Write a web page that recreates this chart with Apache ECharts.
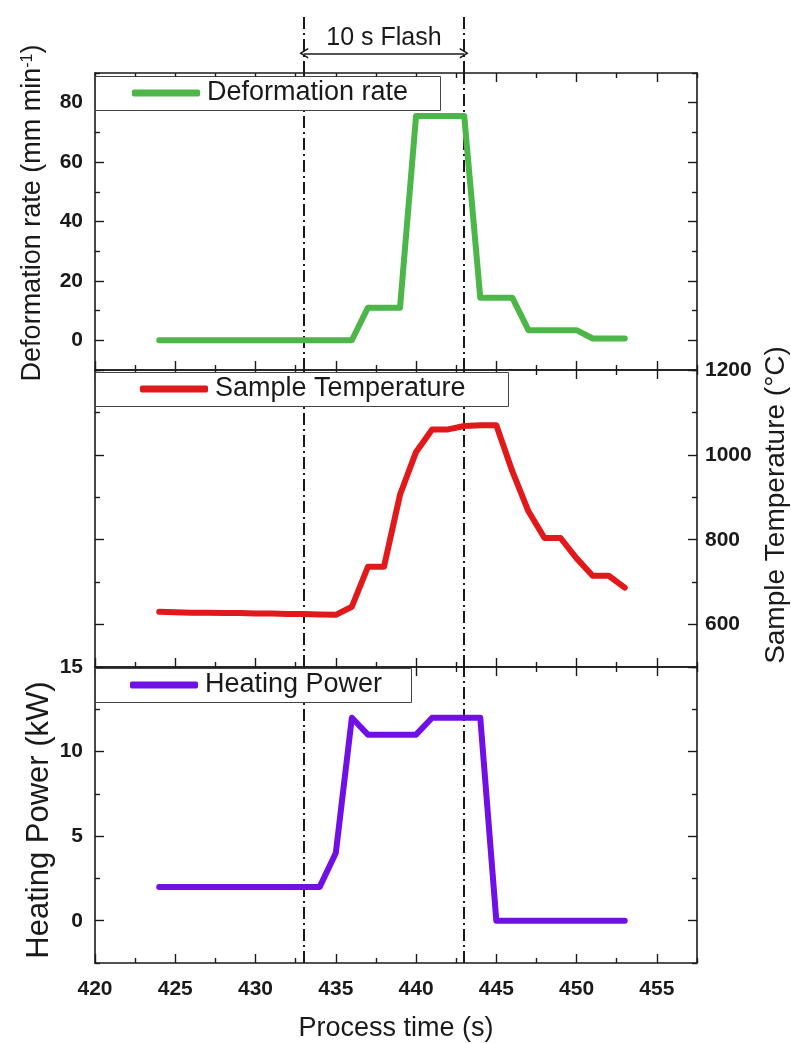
<!DOCTYPE html>
<html>
<head>
<meta charset="utf-8">
<script src="https://cdn.jsdelivr.net/npm/echarts@6/dist/echarts.min.js"></script>
<style>html,body{margin:0;padding:0;background:#fff}#c{width:791px;height:1044px}</style>
</head>
<body>
<div id="c"></div>
<script>
// ---------- data ----------
const times = [424,425,426,427,428,429,430,431,432,433,434,435,436,437,438,439,440,441,442,443,444,445,446,447,448,449,450,451,452,453];
const deformationRate = [0,0,0,0,0,0,0,0,0,0,0,0,0,11,11,11,75.5,75.5,75.5,75.5,14.3,14.3,14.3,3.4,3.4,3.4,3.4,0.6,0.6,0.6];
const sampleTemperature = [630,629,628,628,627,627,626,626,625,625,624,623,642,736,736,906,1007,1060,1060,1068,1070,1070,961,867,804,804,756,715,715,687];
const heatingPower = [2,2,2,2,2,2,2,2,2,2,2,4,12,11,11,11,11,12,12,12,12,0,0,0,0,0,0,0,0,0];
const flashWindow = [433, 443];
const flashLabel = '10 s Flash';
const seriesNames = ['Deformation rate', 'Sample Temperature', 'Heating Power'];
const xMajorTicks = [420,425,430,435,440,445,450,455];
const xMinorTicks = [422.5,427.5,432.5,437.5,442.5,447.5,452.5,457.5];
const defMajorTicks = [0,20,40,60,80];
const defMinorTicks = [-10,10,30,50,70,90];
const tempMajorTicks = [600,800,1000,1200];
const tempMinorTicks = [500,700,900,1100];
const powerMajorTicks = [0,5,10,15];
const powerMinorTicks = [-2.5,2.5,7.5,12.5];

// ---------- styling ----------
const FONT = '"Liberation Sans", Arial, sans-serif';
const INK = '#1a1a1a';
const COLORS = ['#4cb648', '#e1191b', '#7010e6'];
const X_MIN = 420, X_MAX = 457.5;

const labelStyle = {fontFamily: FONT, fontSize: 21, fontWeight: 'bold', color: INK, formatter: v => String(v)};

function xAx(grid, pos, ticks, len, line, labels, extra) {
  return Object.assign({
    type: 'value', gridIndex: grid, position: pos, min: X_MIN, max: X_MAX,
    axisLine: {show: line, onZero: false, lineStyle: {color: INK, width: 1.6}},
    axisTick: {show: true, inside: true, length: len, customValues: ticks, lineStyle: {color: INK, width: 1.4}},
    axisLabel: labels ? Object.assign({show: true, customValues: labels, margin: 16}, labelStyle) : {show: false},
    splitLine: {show: false}
  }, extra || {});
}
function yAx(grid, pos, min, max, ticks, len, line, labels, margin) {
  return {
    type: 'value', gridIndex: grid, position: pos, min: min, max: max,
    axisLine: {show: line, onZero: false, lineStyle: {color: INK, width: 1.6}},
    axisTick: {show: true, inside: true, length: len, customValues: ticks, lineStyle: {color: INK, width: 1.4}},
    axisLabel: labels ? Object.assign({show: true, customValues: labels, margin: margin}, labelStyle) : {show: false},
    splitLine: {show: false}
  };
}

const grids = [
  {left: 95, right: 94, top: 15, height: 58, show: false},
  {left: 95, right: 94, top: 73, height: 297, show: false},
  {left: 95, right: 94, top: 370, height: 297, show: false},
  {left: 95, right: 94, top: 667, height: 296, show: false}
];

const xAxes = [{type: 'value', gridIndex: 0, min: X_MIN, max: X_MAX, show: false}];
const yAxes = [{type: 'value', gridIndex: 0, min: 0, max: 1, show: false}];
const panels = [
  {min: -10, max: 90, major: defMajorTicks, minor: defMinorTicks, leftLabels: defMajorTicks, rightLabels: null},
  {min: 500, max: 1200, major: tempMajorTicks, minor: tempMinorTicks, leftLabels: null, rightLabels: tempMajorTicks},
  {min: -2.5, max: 15, major: powerMajorTicks, minor: powerMinorTicks, leftLabels: powerMajorTicks, rightLabels: null}
];
panels.forEach((p, i) => {
  const g = i + 1;
  const last = g === 3;
  xAxes.push(xAx(g, 'bottom', xMajorTicks, 9, true, last ? xMajorTicks : null,
    last ? {name: 'Process time (s)', nameLocation: 'middle', nameGap: 52,
            nameTextStyle: {fontFamily: FONT, fontSize: 27, color: INK}} : null));
  xAxes.push(xAx(g, 'bottom', xMinorTicks, 5, false, null));
  xAxes.push(xAx(g, 'top', xMajorTicks, 9, true, null));
  xAxes.push(xAx(g, 'top', xMinorTicks, 5, false, null));
  yAxes.push(yAx(g, 'left', p.min, p.max, p.major, 9, true, p.leftLabels, 12));
  yAxes.push(yAx(g, 'left', p.min, p.max, p.minor, 5, false, null));
  yAxes.push(yAx(g, 'right', p.min, p.max, p.major, 9, true, p.rightLabels, 8));
  yAxes.push(yAx(g, 'right', p.min, p.max, p.minor, 5, false, null));
});

const dashDot = {type: [12, 4, 2, 4], color: INK, width: 2};
const flashMarkLine = {
  silent: true, animation: false, symbol: ['none', 'none'], z: 1,
  label: {show: false}, lineStyle: dashDot,
  data: flashWindow.map(v => ({xAxis: v}))
};
const chevron = 'path://M0,10 L5,0 L10,10 L8.4,10 L5,3.2 L1.6,10 Z';

function panelSeries(idx, values, xi, yi) {
  return {
    name: seriesNames[idx], type: 'line', xAxisIndex: xi, yAxisIndex: yi,
    data: times.map((t, k) => [t, values[k]]),
    showSymbol: false, symbol: 'none', color: COLORS[idx],
    lineStyle: {width: 6, color: COLORS[idx], cap: 'round', join: 'round'},
    markLine: flashMarkLine, z: 2
  };
}

const series = [
  {type: 'line', xAxisIndex: 0, yAxisIndex: 0, data: [], markLine: flashMarkLine},
  {type: 'line', xAxisIndex: 0, yAxisIndex: 0, data: [],
   markLine: {
     silent: true, animation: false, symbol: [chevron, chevron], symbolSize: [11, 9],
     lineStyle: {type: 'solid', color: INK, width: 1.5},
     label: {show: true, position: 'middle', formatter: flashLabel, distance: 3,
             fontFamily: FONT, fontSize: 25, color: INK},
     data: [[{coord: [flashWindow[0], 0.34]}, {coord: [flashWindow[1], 0.34]}]]
   }},
  panelSeries(0, deformationRate, 1, 1),
  panelSeries(1, sampleTemperature, 5, 7),
  panelSeries(2, heatingPower, 9, 9)
];

// legend boxes: [top, right edge, left padding]
const legendBoxes = [[76, 440, 37], [372, 508, 45], [668, 411, 35]];
function legend(name, box) {
  return {
    data: [name], left: 95, top: box[0], orient: 'horizontal', selectedMode: false,
    icon: 'roundRect', itemWidth: 68, itemHeight: 7, zlevel: 2, z: 50,
    padding: [2, 4, 2, box[2]], borderWidth: 0, backgroundColor: 'transparent',
    textStyle: {fontFamily: FONT, fontSize: 27, color: INK, lineHeight: 30, padding: [0, 0, 0, 2]}
  };
}

const titleStyle = (size) => ({fontFamily: FONT, fontSize: size, fill: INK, align: 'center', verticalAlign: 'middle'});

const option = {
  animation: false,
  backgroundColor: '#fff',
  grid: grids,
  xAxis: xAxes,
  yAxis: yAxes,
  legend: seriesNames.map((n, i) => legend(n, legendBoxes[i])),
  series: series,
  graphic: legendBoxes.map(b => ({
    type: 'rect', zlevel: 1, z: 40, silent: true,
    shape: {x: 95.5, y: b[0] + 0.5, width: b[1] - 95, height: 34},
    style: {fill: '#fff', stroke: '#444', lineWidth: 1}
  })).concat([
    {type: 'text', x: 33, y: 213, rotation: Math.PI / 2, z: 10,
     style: Object.assign(titleStyle(27), {
       text: 'Deformation rate (mm min{sup|-1})',
       rich: {sup: {fontFamily: FONT, fontSize: 16, fill: INK, verticalAlign: 'top'}}
     })},
    {type: 'text', x: 39, y: 820, rotation: Math.PI / 2, z: 10,
     style: Object.assign(titleStyle(31), {text: 'Heating Power (kW)'})},
    {type: 'text', x: 776, y: 505, rotation: Math.PI / 2, z: 10,
     style: Object.assign(titleStyle(28), {text: 'Sample Temperature (°C)'})}
  ])
};

const chart = echarts.init(document.getElementById('c'), null, {renderer: 'canvas'});
chart.setOption(option);
</script>
</body>
</html>
